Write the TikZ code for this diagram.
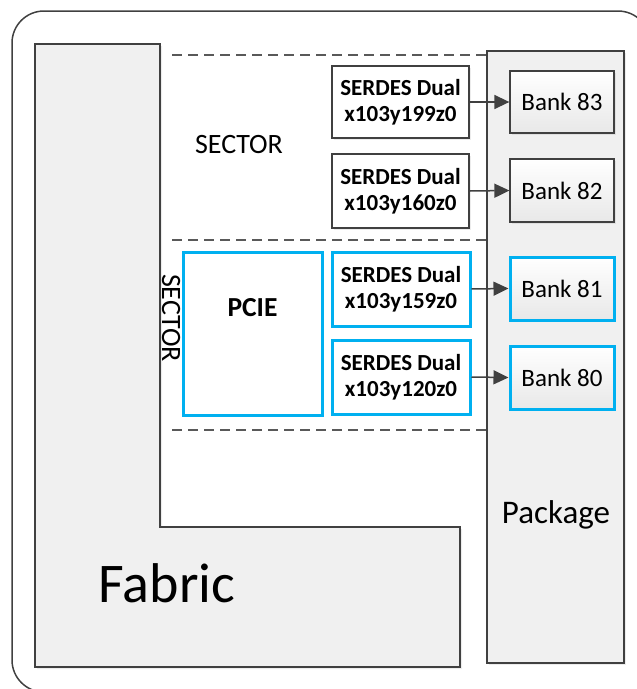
\documentclass[tikz,border=0pt]{standalone}
\usepackage{fontspec}
\setmainfont{Carlito}
\usetikzlibrary{arrows.meta,shadows}
\definecolor{edge}{HTML}{404040}
\definecolor{blueedge}{HTML}{00B0F0}
\definecolor{dashc}{HTML}{595959}
\tikzset{
  x=1pt, y=-1pt,
  grayblock/.style={draw=edge, line width=1.3pt, fill=black!6,
    drop shadow={shadow xshift=2pt, shadow yshift=-2pt, opacity=0.15}},
  bankbox/.style={draw=edge, line width=1.3pt, top color=white, bottom color=black!9,
    drop shadow={shadow xshift=2pt, shadow yshift=-2pt, opacity=0.15}},
  bluebank/.style={draw=blueedge, line width=3pt, top color=white, bottom color=black!9,
    drop shadow={shadow xshift=2pt, shadow yshift=-2pt, opacity=0.15}},
  serdesbox/.style={draw=edge, line width=1.5pt, fill=white,
    drop shadow={shadow xshift=2pt, shadow yshift=-2pt, opacity=0.15}},
  blueserdes/.style={draw=blueedge, line width=3pt, fill=white,
    drop shadow={shadow xshift=2pt, shadow yshift=-2pt, opacity=0.15}},
  sectorline/.style={draw=dashc, line width=1.3pt, dash pattern=on 10pt off 6pt},
  link/.style={draw=edge, line width=1.5pt, -{Triangle[length=15pt,width=14pt]}},
  lbl/.style={font=\fontsize{25}{30}\selectfont, text=black, inner sep=0pt},
  boldlbl/.style={font=\bfseries\fontsize{23}{26}\selectfont, align=center, text=black, inner sep=0pt},
}
\begin{document}
\begin{tikzpicture}
\useasboundingbox (0,0) rectangle (637,689);
\begin{scope}
\clip (0,0) rectangle (637,689);
% outer frame (only its visible part)
\draw[edge, line width=1.5pt] (44,692) arc[start angle=270, end angle=180, radius=32pt]
  -- (12,43) arc[start angle=180, end angle=90, radius=32pt] -- (618,11)
  arc[start angle=90, end angle=0, radius=32pt];
\end{scope}
% Fabric (L shape)
\path[grayblock] (35,44) -- (160,44) -- (160,527) -- (460,527) -- (460,667) -- (35,667) -- cycle;
\node[lbl, font=\fontsize{56}{60}\selectfont] (fabric) at (167,583) {Fabric};
% Package
\path[grayblock] (487,51) rectangle (624,663);
\node[lbl, font=\fontsize{33}{36}\selectfont] (package) at (556,515) {Package};
% sector lines
\coordinate (d1a) at (172,55);  \coordinate (d1b) at (486,55);
\coordinate (d2a) at (172,240); \coordinate (d2b) at (486,240);
\coordinate (d3a) at (172,430); \coordinate (d3b) at (486,430);
\draw[sectorline] (d1a) -- (d1b);
\draw[sectorline] (d2a) -- (d2b);
\draw[sectorline] (d3a) -- (d3b);
\node[lbl, font=\fontsize{28}{32}\selectfont] (sec1) at (239,145) {SECTOR};
\node[lbl, font=\fontsize{28}{32}\selectfont, rotate=-90] (sec2) at (171,318) {SECTOR};
% PCIE
\path[blueserdes] (183,252) rectangle (322,415);
\node[boldlbl, font=\bfseries\fontsize{27.5}{30}\selectfont] (pcie) at (252.5,308) {PCIE};
% SERDES boxes
\node[serdesbox, minimum width=137pt, minimum height=72pt, inner sep=0pt] (s1) at (400.5,102) {};
\node[boldlbl] at (s1) {SERDES Dual\\x103y199z0};
\node[serdesbox, minimum width=137pt, minimum height=74pt, inner sep=0pt] (s2) at (400.5,191) {};
\node[boldlbl] at (s2) {SERDES Dual\\x103y160z0};
\node[blueserdes, minimum width=138pt, minimum height=74pt, inner sep=0pt] (s3) at (401,289) {};
\node[boldlbl] at (s3) {SERDES Dual\\x103y159z0};
\node[blueserdes, minimum width=138pt, minimum height=74pt, inner sep=0pt] (s4) at (401,377) {};
\node[boldlbl] at (s4) {SERDES Dual\\x103y120z0};
% Banks
\node[bankbox, minimum width=104pt, minimum height=62pt, inner sep=0pt] (b83) at (562,102) {};
\node[lbl] at (b83) {Bank 83};
\node[bankbox, minimum width=104pt, minimum height=63pt, inner sep=0pt] (b82) at (562,190.5) {};
\node[lbl] at (b82) {Bank 82};
\node[bluebank, minimum width=104pt, minimum height=63pt, inner sep=0pt] (b81) at (562,288.5) {};
\node[lbl] at (b81) {Bank 81};
\node[bluebank, minimum width=104pt, minimum height=63pt, inner sep=0pt] (b80) at (562,377.5) {};
\node[lbl] at (b80) {Bank 80};
% links
\draw[link] (s1.east) -- (b83.west);
\draw[link] (s2.east) -- (b82.west);
\draw[link] (s3.east) -- (b81.west);
\draw[link] (s4.east) -- (b80.west);
\end{tikzpicture}
\end{document}
